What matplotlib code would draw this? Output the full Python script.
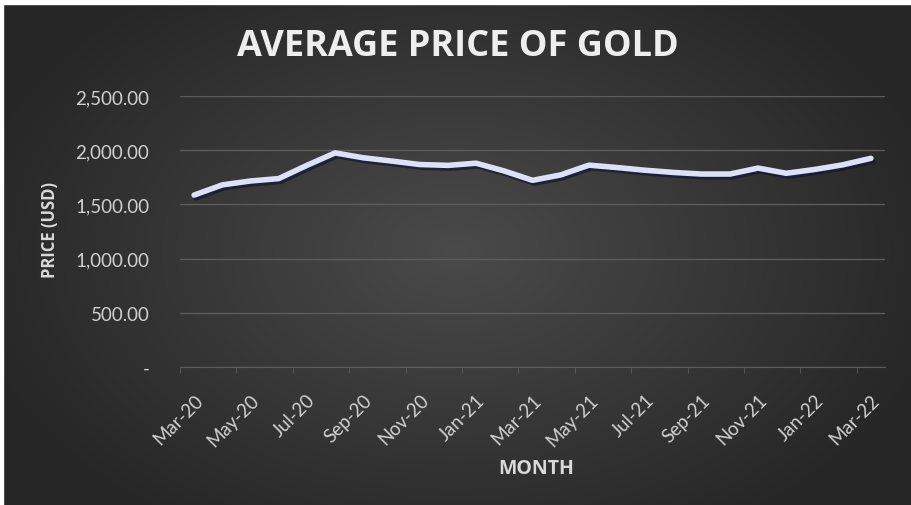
import numpy as np
import matplotlib
matplotlib.use('Agg')
import matplotlib.pyplot as plt
import matplotlib.patheffects as pe

# monthly average gold price, Mar-20 .. Mar-22
months = ['Mar-20', 'Apr-20', 'May-20', 'Jun-20', 'Jul-20', 'Aug-20', 'Sep-20',
          'Oct-20', 'Nov-20', 'Dec-20', 'Jan-21', 'Feb-21', 'Mar-21', 'Apr-21',
          'May-21', 'Jun-21', 'Jul-21', 'Aug-21', 'Sep-21', 'Oct-21', 'Nov-21',
          'Dec-21', 'Jan-22', 'Feb-22', 'Mar-22']
price = [1586, 1680, 1716, 1738, 1860, 1975, 1930, 1900, 1868, 1860,
         1880, 1808, 1722, 1772, 1862, 1840, 1815, 1795, 1780, 1780,
         1835, 1787, 1822, 1865, 1925]
yticks = [0, 500, 1000, 1500, 2000, 2500]

plt.rcParams['font.family'] = ['Lato', 'DejaVu Sans']
bold_font = ['Open Sans', 'DejaVu Sans']

fig = plt.figure(figsize=(9.12, 5.06), dpi=100)

# dark radial background like the Excel chart style
bg = fig.add_axes([0, 0, 1, 1])
gx, gy = np.meshgrid(np.linspace(-1, 1, 400), np.linspace(-1, 1, 220))
r = np.sqrt((gx / 1.1) ** 2 + (gy / 1.3) ** 2)
shade = 0.29 - 0.14 * np.clip(r, 0, 1)
bg.imshow(np.dstack([shade, shade, shade]), aspect='auto', extent=[0, 1, 0, 1])
bg.set_xlim(0, 1)
bg.set_ylim(0, 1)
bg.axis('off')
# white frame strips on top and left
fig.patches.append(plt.Rectangle((0, 1 - 5 / 506), 1, 5 / 506, transform=fig.transFigure,
                                 color='white', zorder=5))
fig.patches.append(plt.Rectangle((0, 0), 3 / 912, 1, transform=fig.transFigure,
                                 color='white', zorder=5))

ax = fig.add_axes([180 / 912, 1 - 368 / 506, 705 / 912, 271 / 506])
ax.set_facecolor('none')
x = np.arange(len(months))
ax.plot(x, price, color='#dde1f5', lw=4, solid_capstyle='round',
        path_effects=[pe.SimpleLineShadow(offset=(1.5, -2), shadow_color='#10183a', alpha=0.7),
                      pe.Normal()])

ax.set_xlim(-0.5, len(months) - 0.5)
ax.set_ylim(0, 2500)
ax.set_yticks(yticks)
ax.set_yticklabels(['-' if v == 0 else f'{v:,.2f}' for v in yticks])
ax.grid(axis='y', color='#5c5c5c', lw=1)
ax.set_axisbelow(True)

ax.set_xticks(x[::2])
ax.set_xticklabels(months[::2], rotation=45, ha='right', rotation_mode='anchor')
ax.set_xticks(np.arange(-0.5, len(months), 2), minor=True)
ax.tick_params(axis='x', which='major', length=0, pad=17, labelsize=13.5, colors='#d0d0d0')
ax.tick_params(axis='x', which='minor', length=4, color='#5c5c5c')
ax.tick_params(axis='y', length=0, pad=22, labelsize=13.5, colors='#d0d0d0')

for s in ['top', 'right', 'left']:
    ax.spines[s].set_visible(False)
ax.spines['bottom'].set_color('#5c5c5c')

ax.set_ylabel('PRICE (USD)', fontsize=12, fontweight='bold', color='#d9d9d9', family=bold_font)
ax.yaxis.set_label_coords(-0.172, 0.51)
ax.set_xlabel('MONTH', fontsize=14, fontweight='bold', color='#d9d9d9', family=bold_font)
ax.xaxis.set_label_coords(0.505, -0.336)

fig.text(458 / 912, 1 - 47 / 506, 'AVERAGE PRICE OF GOLD', ha='center', va='center',
         fontsize=26, fontweight='bold', color='#eeeeee', family=bold_font)

fig.savefig('out.png', dpi=100)
